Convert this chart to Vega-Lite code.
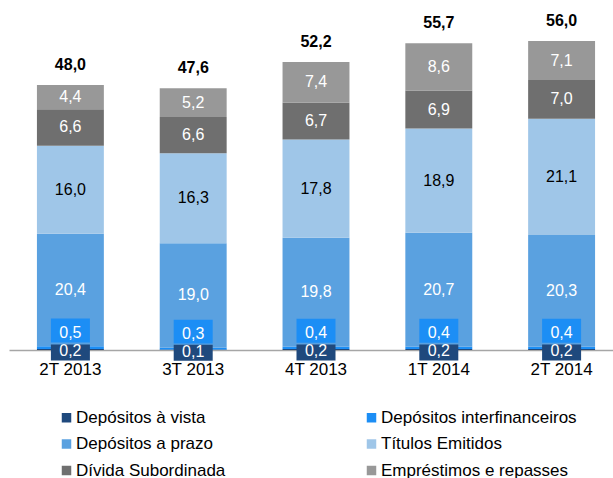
{
  "$schema": "https://vega.github.io/schema/vega-lite/v6.json",
  "width": 613,
  "height": 309,
  "autosize": {"type": "none"},
  "padding": {"left": 0, "top": 41, "right": 0, "bottom": 128},
  "config": {
    "view": {"stroke": null},
    "font": "Liberation Sans",
    "locale": {"number": {"decimal": ",", "thousands": ".", "grouping": [3], "currency": ["R$ ", ""]}}
  },
  "datasets": {
    "segs": [
      {"periodo": "2T 2013", "serie": "Depósitos à vista", "ordem": 1, "valor": 0.2},
      {"periodo": "2T 2013", "serie": "Depósitos interfinanceiros", "ordem": 2, "valor": 0.5},
      {"periodo": "2T 2013", "serie": "Depósitos a prazo", "ordem": 3, "valor": 20.4},
      {"periodo": "2T 2013", "serie": "Títulos Emitidos", "ordem": 4, "valor": 16.0},
      {"periodo": "2T 2013", "serie": "Dívida Subordinada", "ordem": 5, "valor": 6.6},
      {"periodo": "2T 2013", "serie": "Empréstimos e repasses", "ordem": 6, "valor": 4.4},
      {"periodo": "3T 2013", "serie": "Depósitos à vista", "ordem": 1, "valor": 0.1},
      {"periodo": "3T 2013", "serie": "Depósitos interfinanceiros", "ordem": 2, "valor": 0.3},
      {"periodo": "3T 2013", "serie": "Depósitos a prazo", "ordem": 3, "valor": 19.0},
      {"periodo": "3T 2013", "serie": "Títulos Emitidos", "ordem": 4, "valor": 16.3},
      {"periodo": "3T 2013", "serie": "Dívida Subordinada", "ordem": 5, "valor": 6.6},
      {"periodo": "3T 2013", "serie": "Empréstimos e repasses", "ordem": 6, "valor": 5.2},
      {"periodo": "4T 2013", "serie": "Depósitos à vista", "ordem": 1, "valor": 0.2},
      {"periodo": "4T 2013", "serie": "Depósitos interfinanceiros", "ordem": 2, "valor": 0.4},
      {"periodo": "4T 2013", "serie": "Depósitos a prazo", "ordem": 3, "valor": 19.8},
      {"periodo": "4T 2013", "serie": "Títulos Emitidos", "ordem": 4, "valor": 17.8},
      {"periodo": "4T 2013", "serie": "Dívida Subordinada", "ordem": 5, "valor": 6.7},
      {"periodo": "4T 2013", "serie": "Empréstimos e repasses", "ordem": 6, "valor": 7.4},
      {"periodo": "1T 2014", "serie": "Depósitos à vista", "ordem": 1, "valor": 0.2},
      {"periodo": "1T 2014", "serie": "Depósitos interfinanceiros", "ordem": 2, "valor": 0.4},
      {"periodo": "1T 2014", "serie": "Depósitos a prazo", "ordem": 3, "valor": 20.7},
      {"periodo": "1T 2014", "serie": "Títulos Emitidos", "ordem": 4, "valor": 18.9},
      {"periodo": "1T 2014", "serie": "Dívida Subordinada", "ordem": 5, "valor": 6.9},
      {"periodo": "1T 2014", "serie": "Empréstimos e repasses", "ordem": 6, "valor": 8.6},
      {"periodo": "2T 2014", "serie": "Depósitos à vista", "ordem": 1, "valor": 0.2},
      {"periodo": "2T 2014", "serie": "Depósitos interfinanceiros", "ordem": 2, "valor": 0.4},
      {"periodo": "2T 2014", "serie": "Depósitos a prazo", "ordem": 3, "valor": 20.3},
      {"periodo": "2T 2014", "serie": "Títulos Emitidos", "ordem": 4, "valor": 21.1},
      {"periodo": "2T 2014", "serie": "Dívida Subordinada", "ordem": 5, "valor": 7.0},
      {"periodo": "2T 2014", "serie": "Empréstimos e repasses", "ordem": 6, "valor": 7.1}
    ],
    "totais": [
      {"periodo": "2T 2013", "total": 48.0, "topo": 48.1},
      {"periodo": "3T 2013", "total": 47.6, "topo": 47.5},
      {"periodo": "4T 2013", "total": 52.2, "topo": 52.3},
      {"periodo": "1T 2014", "total": 55.7, "topo": 55.7},
      {"periodo": "2T 2014", "total": 56.0, "topo": 56.1}
    ]
  },
  "layer": [
    {
      "data": {"name": "segs"},
      "transform": [
        {"stack": "valor", "groupby": ["periodo"], "sort": [{"field": "ordem", "order": "ascending"}], "as": ["y0", "y1"]}
      ],
      "mark": {"type": "bar"},
      "encoding": {
        "x": {
          "field": "periodo", "type": "nominal",
          "sort": ["2T 2013", "3T 2013", "4T 2013", "1T 2014", "2T 2014"],
          "scale": {"range": [9, 623], "paddingInner": 0.455, "paddingOuter": 0.2275},
          "axis": {"title": null, "ticks": false, "tickSize": 0, "domainColor": "#a6a6a6", "domainWidth": 1.5, "labelFontSize": 17, "labelColor": "#000000", "labelPadding": 11, "labelAngle": 0, "labelFont": "Liberation Sans"}
        },
        "y": {"field": "y0", "type": "quantitative", "scale": {"domain": [0, 56.1], "nice": false, "zero": true}, "axis": null},
        "y2": {"field": "y1"},
        "color": {
          "field": "serie", "type": "nominal",
          "scale": {
            "domain": ["Depósitos à vista", "Depósitos interfinanceiros", "Depósitos a prazo", "Títulos Emitidos", "Dívida Subordinada", "Empréstimos e repasses"],
            "range": ["#1F497D", "#1C8EF5", "#5AA1E0", "#9FC6E8", "#6F6F6F", "#989898"]
          },
          "legend": {
            "title": null, "orient": "none", "legendX": 58, "legendY": 368, "columns": 2, "direction": "horizontal",
            "symbolType": "square", "symbolSize": 90, "symbolStrokeWidth": 0, "symbolOpacity": 1,
            "labelFontSize": 17, "labelFont": "Liberation Sans", "labelColor": "#000000", "labelOffset": 1,
            "columnPadding": 137, "rowPadding": 8.5, "labelLimit": 400
          }
        }
      }
    },
    {
      "data": {"name": "segs"},
      "transform": [
        {"stack": "valor", "groupby": ["periodo"], "sort": [{"field": "ordem", "order": "ascending"}], "as": ["y0", "y1"]},
        {"calculate": "(datum.y0 + datum.y1) / 2", "as": "ymid"},
        {"filter": "datum.serie === 'Depósitos à vista'"}
      ],
      "mark": {"type": "point", "shape": "M-1,-0.41H1V0.41H-1Z", "size": 1521, "filled": true, "opacity": 1, "strokeWidth": 0, "color": "#1F497D", "yOffset": 3},
      "encoding": {
        "x": {"field": "periodo", "type": "nominal", "sort": ["2T 2013", "3T 2013", "4T 2013", "1T 2014", "2T 2014"]},
        "y": {"field": "ymid", "type": "quantitative"}
      }
    },
    {
      "data": {"name": "segs"},
      "transform": [
        {"stack": "valor", "groupby": ["periodo"], "sort": [{"field": "ordem", "order": "ascending"}], "as": ["y0", "y1"]},
        {"calculate": "(datum.y0 + datum.y1) / 2", "as": "ymid"},
        {"filter": "datum.serie === 'Depósitos à vista'"}
      ],
      "mark": {"type": "text", "fontSize": 16, "color": "#ffffff", "baseline": "middle", "yOffset": 2},
      "encoding": {
        "x": {"field": "periodo", "type": "nominal", "sort": ["2T 2013", "3T 2013", "4T 2013", "1T 2014", "2T 2014"]},
        "y": {"field": "ymid", "type": "quantitative"},
        "text": {"field": "valor", "type": "quantitative", "format": ".1f"}
      }
    },
    {
      "data": {"name": "segs"},
      "transform": [
        {"stack": "valor", "groupby": ["periodo"], "sort": [{"field": "ordem", "order": "ascending"}], "as": ["y0", "y1"]},
        {"calculate": "(datum.y0 + datum.y1) / 2", "as": "ymid"},
        {"filter": "datum.serie === 'Depósitos interfinanceiros'"}
      ],
      "mark": {"type": "point", "shape": "M-1,-0.615H1V0.615H-1Z", "size": 1521, "filled": true, "opacity": 1, "strokeWidth": 0, "color": "#1C8EF5", "yOffset": -17},
      "encoding": {
        "x": {"field": "periodo", "type": "nominal", "sort": ["2T 2013", "3T 2013", "4T 2013", "1T 2014", "2T 2014"]},
        "y": {"field": "ymid", "type": "quantitative"}
      }
    },
    {
      "data": {"name": "segs"},
      "transform": [
        {"stack": "valor", "groupby": ["periodo"], "sort": [{"field": "ordem", "order": "ascending"}], "as": ["y0", "y1"]},
        {"calculate": "(datum.y0 + datum.y1) / 2", "as": "ymid"},
        {"filter": "datum.serie === 'Depósitos interfinanceiros'"}
      ],
      "mark": {"type": "text", "fontSize": 16, "color": "#ffffff", "baseline": "middle", "yOffset": -15},
      "encoding": {
        "x": {"field": "periodo", "type": "nominal", "sort": ["2T 2013", "3T 2013", "4T 2013", "1T 2014", "2T 2014"]},
        "y": {"field": "ymid", "type": "quantitative"},
        "text": {"field": "valor", "type": "quantitative", "format": ".1f"}
      }
    },
    {
      "data": {"name": "segs"},
      "transform": [
        {"stack": "valor", "groupby": ["periodo"], "sort": [{"field": "ordem", "order": "ascending"}], "as": ["y0", "y1"]},
        {"calculate": "(datum.y0 + datum.y1) / 2", "as": "ymid"},
        {"filter": "datum.ordem > 2"}
      ],
      "mark": {"type": "text", "fontSize": 16, "baseline": "middle"},
      "encoding": {
        "x": {"field": "periodo", "type": "nominal", "sort": ["2T 2013", "3T 2013", "4T 2013", "1T 2014", "2T 2014"]},
        "y": {"field": "ymid", "type": "quantitative"},
        "text": {"field": "valor", "type": "quantitative", "format": ".1f"},
        "color": {"condition": {"test": "datum.serie === 'Títulos Emitidos'", "value": "#000000"}, "value": "#ffffff"}
      }
    },
    {
      "data": {"name": "totais"},
      "mark": {"type": "text", "fontSize": 16, "fontWeight": "bold", "color": "#000000", "baseline": "alphabetic", "dy": -15},
      "encoding": {
        "x": {"field": "periodo", "type": "nominal", "sort": ["2T 2013", "3T 2013", "4T 2013", "1T 2014", "2T 2014"]},
        "y": {"field": "topo", "type": "quantitative"},
        "text": {"field": "total", "type": "quantitative", "format": ".1f"}
      }
    }
  ]
}
